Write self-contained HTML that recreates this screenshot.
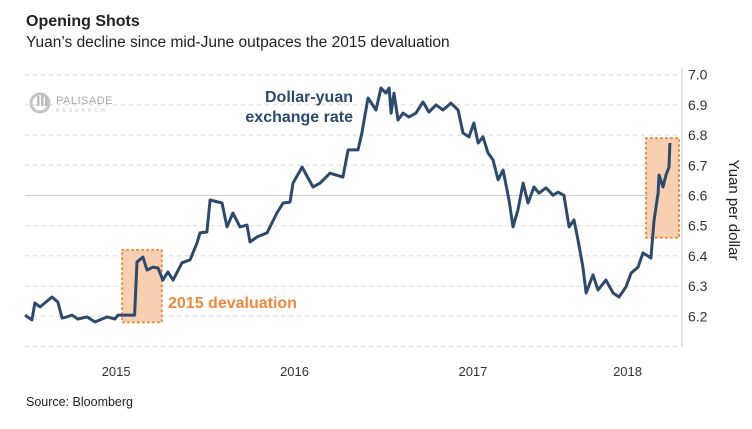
<!DOCTYPE html>
<html><head><meta charset="utf-8"><style>
body{margin:0;background:#fff;width:752px;height:424px;overflow:hidden;font-family:"Liberation Sans",sans-serif}
</style></head><body>
<svg id="chart" width="752" height="424" xmlns="http://www.w3.org/2000/svg" font-family="Liberation Sans, sans-serif">
<text x="26" y="26" font-size="16" font-weight="bold" fill="#222">Opening Shots</text>
<text x="26" y="47" font-size="15.5" fill="#222">Yuan’s decline since mid-June outpaces the 2015 devaluation</text>
<g id="grid"></g>
<g id="boxes"></g>
<g fill="#bbb">
<circle cx="40" cy="103" r="9" fill="none" stroke="#c4c4c4" stroke-width="3"/>
<rect x="37" y="96" width="2.5" height="10"/><rect x="41" y="93" width="2.5" height="13"/><rect x="45" y="97" width="2.5" height="9"/>
<text x="56" y="104" font-size="11" fill="#aaa" letter-spacing="0.5">PALISADE</text>
<text x="56" y="112" font-size="5" fill="#ccc" letter-spacing="3">RESEARCH</text>
</g>
<line x1="682" y1="68" x2="682" y2="346" stroke="#ccc"/>
<g id="yticks"></g>
<g id="xticks"></g>
<path id="line" fill="none" stroke="#2c4a6e" stroke-width="3" stroke-linejoin="round"/>
<text font-size="16" font-weight="bold" fill="#2c4a6e" text-anchor="end"><tspan x="353" y="102">Dollar-yuan</tspan><tspan x="353" y="122">exchange rate</tspan></text>
<text x="168" y="308" font-size="16" font-weight="bold" fill="#f0873a">2015 devaluation</text>
<text transform="translate(729,210) rotate(90)" text-anchor="middle" font-size="15" fill="#222">Yuan per dollar</text>
<text x="26" y="406" font-size="12.5" fill="#222">Source: Bloomberg</text>
</svg>
<script>
const dates=[2015,2015.035,2015.05,2015.076,2015.10,2015.136,2015.166,2015.187,2015.212,2015.237,2015.267,2015.313,2015.353,2015.414,2015.454,2015.469,2015.553,2015.565,2015.595,2015.616,2015.646,2015.671,2015.696,2015.721,2015.747,2015.792,2015.833,2015.868,2015.883,2015.918,2015.934,2015.994,2016.019,2016.049,2016.085,2016.120,2016.135,2016.171,2016.221,2016.271,2016.302,2016.337,2016.352,2016.398,2016.453,2016.489,2016.539,2016.604,2016.630,2016.680,2016.700,2016.726,2016.731,2016.771,2016.796,2016.821,2016.837,2016.847,2016.862,2016.882,2016.907,2016.937,2016.973,2017.008,2017.038,2017.074,2017.109,2017.149,2017.185,2017.210,2017.240,2017.265,2017.286,2017.311,2017.336,2017.361,2017.387,2017.412,2017.442,2017.462,2017.487,2017.513,2017.538,2017.568,2017.593,2017.629,2017.664,2017.689,2017.719,2017.745,2017.770,2017.790,2017.815,2017.831,2017.866,2017.891,2017.931,2017.967,2017.997,2018.032,2018.058,2018.093,2018.118,2018.158,2018.174,2018.194,2018.199,2018.219,2018.234,2018.249,2018.254];
const rates=[6.204,6.188,6.244,6.231,6.244,6.264,6.247,6.194,6.198,6.204,6.191,6.198,6.181,6.198,6.191,6.204,6.204,6.380,6.396,6.353,6.363,6.360,6.320,6.347,6.320,6.377,6.387,6.443,6.476,6.479,6.585,6.575,6.496,6.542,6.496,6.502,6.446,6.463,6.476,6.542,6.575,6.578,6.641,6.694,6.628,6.641,6.674,6.661,6.751,6.751,6.807,6.906,6.923,6.883,6.956,6.939,6.956,6.873,6.939,6.850,6.873,6.860,6.873,6.910,6.876,6.900,6.883,6.906,6.883,6.807,6.794,6.840,6.774,6.794,6.741,6.718,6.652,6.684,6.585,6.496,6.552,6.641,6.575,6.628,6.608,6.625,6.601,6.611,6.601,6.496,6.519,6.453,6.363,6.277,6.337,6.287,6.320,6.277,6.264,6.297,6.343,6.363,6.410,6.393,6.519,6.608,6.668,6.628,6.668,6.694,6.774];
const yTicks=[6.2,6.3,6.4,6.5,6.6,6.7,6.8,6.9,7.0];
const gridVals=[6.1,6.2,6.3,6.4,6.5,6.6,6.7,6.8,6.9,7.0];
const xTickVals=[2015.46,2016.36,2017.26,2018.04];
const xTickLabels=["2015","2016","2017","2018"];
const boxT0=[2015.49,2018.133];
const boxT1=[2015.69,2018.30];
const boxV0=[6.18,6.46];
const boxV1=[6.42,6.79];
const X=t=>25+(t-2015)*198.2;
const Y=v=>74.7+(7-v)*302;
const NS="http://www.w3.org/2000/svg";
function mk(tag,parent,attrs){const e=document.createElementNS(NS,tag);for(const k in attrs)e.setAttribute(k,attrs[k]);parent.appendChild(e);return e;}
const grid=document.getElementById('grid');
gridVals.forEach(v=>{const solid=Math.abs(v-6.6)<1e-6;
const l=mk('line',grid,{x1:25,x2:682,y1:Y(v),y2:Y(v),stroke:solid?'#ccc':'#d8d8d8','stroke-width':1,'stroke-dasharray':solid?'none':'4 4'});

});
const yt=document.getElementById('yticks');
yTicks.forEach(v=>{const t=mk('text',yt,{x:688,y:Y(v)+5,'font-size':14,fill:'#333'});t.textContent=v.toFixed(1);

});
const xt=document.getElementById('xticks');
xTickVals.forEach((v,i)=>{const t=mk('text',xt,{x:X(v),y:376,'font-size':13,fill:'#333','text-anchor':'middle'});t.textContent=xTickLabels[i];

});
const bx=document.getElementById('boxes');
boxT0.forEach((t0,i)=>{const r=mk('rect',bx,{x:X(t0),y:Y(boxV1[i]),width:X(boxT1[i])-X(t0),height:Y(boxV0[i])-Y(boxV1[i]),fill:'#f8cfb0',stroke:'#f0873a','stroke-width':2,'stroke-dasharray':'1 4','stroke-linecap':'round'});

});
document.getElementById('line').setAttribute('d',dates.map((t,i)=>(i?'L':'M')+X(t).toFixed(1)+','+Y(rates[i]).toFixed(1)).join(''));
</script>
</body></html>
